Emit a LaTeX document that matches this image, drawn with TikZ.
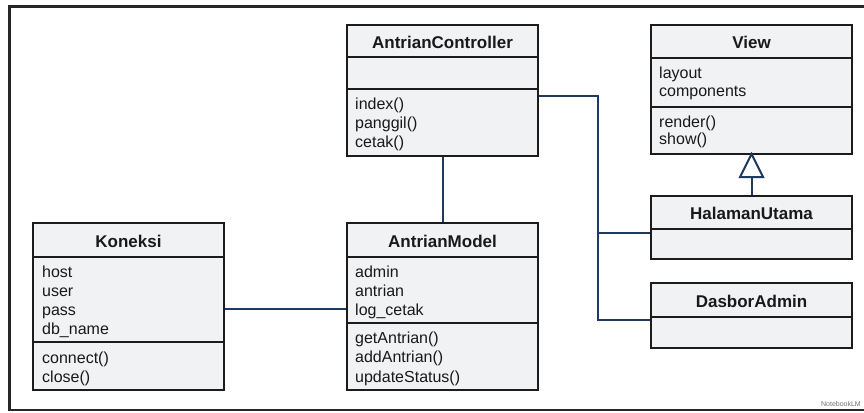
\documentclass[tikz,border=0pt]{standalone}
\usepackage{fontspec}
\setmainfont{Liberation Sans}
\usetikzlibrary{calc}
\definecolor{boxfill}{RGB}{241,242,244}
\definecolor{boxline}{RGB}{28,28,28}
\definecolor{connc}{RGB}{30,58,95}
\begin{document}
\begin{tikzpicture}[x=1pt,y=-1pt,
  cls/.style={draw=boxline, line width=2pt, fill=boxfill, rectangle, inner sep=0pt, outer sep=0pt, anchor=north west},
  div/.style={draw=boxline, line width=2pt},
  ttl/.style={font=\fontsize{17}{20}\selectfont\bfseries, text=black!90, inner sep=0pt},
  mem/.style={font=\fontsize{16}{19}\selectfont, text=black!90, anchor=base west, inner sep=0pt},
  connline/.style={draw=connc, line width=2pt}]
\useasboundingbox (0,0) rectangle (864,412);
\fill[white] (0,0) rectangle (864,412);
\draw[line width=2.4pt, draw=black!85] (9.5,6.5) rectangle (870,410);

% ---- anchors for connectors (invisible) ----
\path (347,25) node[cls, minimum width=191pt, minimum height=131pt, draw=none, fill=none] (ctrl) {};
\path (651,25) node[cls, minimum width=201pt, minimum height=129pt, draw=none, fill=none] (view) {};
\path (33,223) node[cls, minimum width=191pt, minimum height=167pt, draw=none, fill=none] (kon) {};
\path (347,223) node[cls, minimum width=191pt, minimum height=167pt, draw=none, fill=none] (model) {};
\path (651,196) node[cls, minimum width=201pt, minimum height=63pt, draw=none, fill=none] (hal) {};
\path (651,283) node[cls, minimum width=201pt, minimum height=65pt, draw=none, fill=none] (dasbor) {};

% ---- connectors (drawn under boxes) ----
\draw[connline] (ctrl.south) -- (model.north);
\draw[connline] ([yshift=-2.5pt]kon.east) -- ([yshift=-2.5pt]model.west);
\draw[connline] ([yshift=-5.5pt]ctrl.east) -| ([xshift=-53pt,yshift=-4.5pt]dasbor.west) -- ([yshift=-4.5pt]dasbor.west);
\draw[connline] ([yshift=-5.5pt]hal.west) -- ([xshift=-53pt,yshift=-5.5pt]hal.west);
\draw[connline] (hal.north) -- ([yshift=-23pt]view.south);

% ---- AntrianController ----
\node[cls, minimum width=191pt, minimum height=131pt] (ctrlbox) at (347,25) {};
\draw[div] ($(ctrlbox.north west)+(0,32)$) -- ($(ctrlbox.north east)+(0,32)$);
\draw[div] ($(ctrlbox.north west)+(0,64)$) -- ($(ctrlbox.north east)+(0,64)$);
\node[ttl] (ctrlT) at ($(ctrlbox.north)+(0,17)$) {AntrianController};
\foreach \t [count=\i from 0] in {index(),panggil(),cetak()}
  \node[mem] (ctrlm\i) at ($(ctrlbox.north west)+(8,84.5+19*\i)$) {\t};

% ---- View ----
\node[cls, minimum width=201pt, minimum height=129pt] (viewbox) at (651,25) {};
\draw[div] ($(viewbox.north west)+(0,33)$) -- ($(viewbox.north east)+(0,33)$);
\draw[div] ($(viewbox.north west)+(0,82)$) -- ($(viewbox.north east)+(0,82)$);
\node[ttl] (viewT) at ($(viewbox.north)+(0,17)$) {View};
\foreach \t [count=\i from 0] in {layout,components}
  \node[mem] (viewa\i) at ($(viewbox.north west)+(8,53+18*\i)$) {\t};
\foreach \t [count=\i from 0] in {render(),show()}
  \node[mem] (viewm\i) at ($(viewbox.north west)+(8,102+17*\i)$) {\t};

% ---- Koneksi ----
\node[cls, minimum width=191pt, minimum height=167pt] (konbox) at (33,223) {};
\draw[div] ($(konbox.north west)+(0,34)$) -- ($(konbox.north east)+(0,34)$);
\draw[div] ($(konbox.north west)+(0,119)$) -- ($(konbox.north east)+(0,119)$);
\node[ttl] (konT) at ($(konbox.north)+(0,18)$) {Koneksi};
\foreach \t [count=\i from 0] in {host,user,pass,db\_name}
  \node[mem] (kona\i) at ($(konbox.north west)+(9,54.5+19*\i)$) {\t};
\foreach \t [count=\i from 0] in {connect(),close()}
  \node[mem] (konm\i) at ($(konbox.north west)+(9,140+19*\i)$) {\t};

% ---- AntrianModel ----
\node[cls, minimum width=191pt, minimum height=167pt] (modelbox) at (347,223) {};
\draw[div] ($(modelbox.north west)+(0,34)$) -- ($(modelbox.north east)+(0,34)$);
\draw[div] ($(modelbox.north west)+(0,100)$) -- ($(modelbox.north east)+(0,100)$);
\node[ttl] (modelT) at ($(modelbox.north)+(0,18)$) {AntrianModel};
\foreach \t [count=\i from 0] in {admin,antrian,log\_cetak}
  \node[mem] (modela\i) at ($(modelbox.north west)+(8,54.5+19*\i)$) {\t};
\foreach \t [count=\i from 0] in {getAntrian(),addAntrian(),updateStatus()}
  \node[mem] (modelm\i) at ($(modelbox.north west)+(8,120+19.5*\i)$) {\t};

% ---- HalamanUtama ----
\node[cls, minimum width=201pt, minimum height=63pt] (halbox) at (651,196) {};
\draw[div] ($(halbox.north west)+(0,33)$) -- ($(halbox.north east)+(0,33)$);
\node[ttl] (halT) at ($(halbox.north)+(0,17)$) {HalamanUtama};

% ---- DasborAdmin ----
\node[cls, minimum width=201pt, minimum height=65pt] (dasborbox) at (651,283) {};
\draw[div] ($(dasborbox.north west)+(0,34)$) -- ($(dasborbox.north east)+(0,34)$);
\node[ttl] (dasborT) at ($(dasborbox.north)+(0,18)$) {DasborAdmin};

% ---- generalization triangle ----
\draw[connline, fill=white, line join=miter] (view.south) -- ++(11.5,23) -- ++(-23,0) -- cycle;

% ---- watermark ----
\node[font=\fontsize{7}{8}\selectfont, text=black!55, anchor=base east, inner sep=0pt] (wm) at (861,406) {NotebookLM};
\end{tikzpicture}
\end{document}
